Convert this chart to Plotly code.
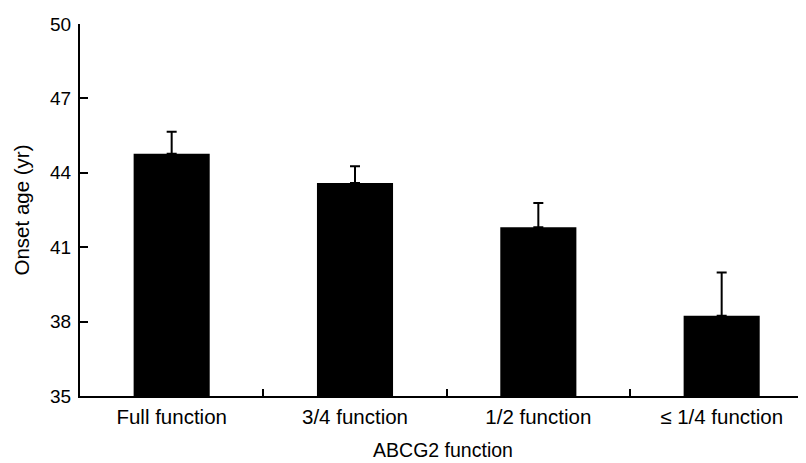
import plotly.graph_objects as go

categories = ["Full function", "3/4 function", "1/2 function", "≤ 1/4 function"]
onset_age = [44.77, 43.59, 41.80, 38.24]
error_up = [0.89, 0.67, 0.98, 1.74]
y_ticks = [35, 38, 41, 44, 47, 50]

FONT = "Liberation Sans, Arial, Helvetica, sans-serif"

fig = go.Figure()
fig.add_trace(go.Bar(
    x=categories,
    y=[v - 35 for v in onset_age],
    base=35,
    marker=dict(color="black", line=dict(width=0)),
    width=0.415,
    error_y=dict(type="data", symmetric=False, array=error_up,
                 arrayminus=[0] * len(error_up),
                 color="black", thickness=2, width=5),
))

# page body has an 8px margin; figure is sized/offset to compensate
fig.update_layout(
    width=798, height=455,
    margin=dict(l=72, r=0, t=16, b=67),
    paper_bgcolor="white", plot_bgcolor="white",
    showlegend=False,
    font=dict(family=FONT, size=19, color="black"),
    xaxis=dict(
        range=[-0.5, 3.46],
        showline=True, linecolor="black", linewidth=2,
        ticks="inside", ticklen=7, tickwidth=2, tickcolor="black",
        tickson="boundaries",
        showgrid=False, zeroline=False,
        ticklabelstandoff=1,
        title=dict(text="ABCG2 function", standoff=17, font=dict(size=19.5)),
        tickfont=dict(size=20.5),
    ),
    yaxis=dict(
        range=[35, 50],
        tickvals=y_ticks,
        showline=True, linecolor="black", linewidth=2,
        ticks="inside", ticklen=8, tickwidth=2, tickcolor="black",
        showgrid=False, zeroline=False,
        ticklabelstandoff=3,
        title=dict(text="Onset age (yr)", standoff=15, font=dict(size=20.5)),
        tickfont=dict(size=19),
    ),
)

fig.write_html("out.html")
